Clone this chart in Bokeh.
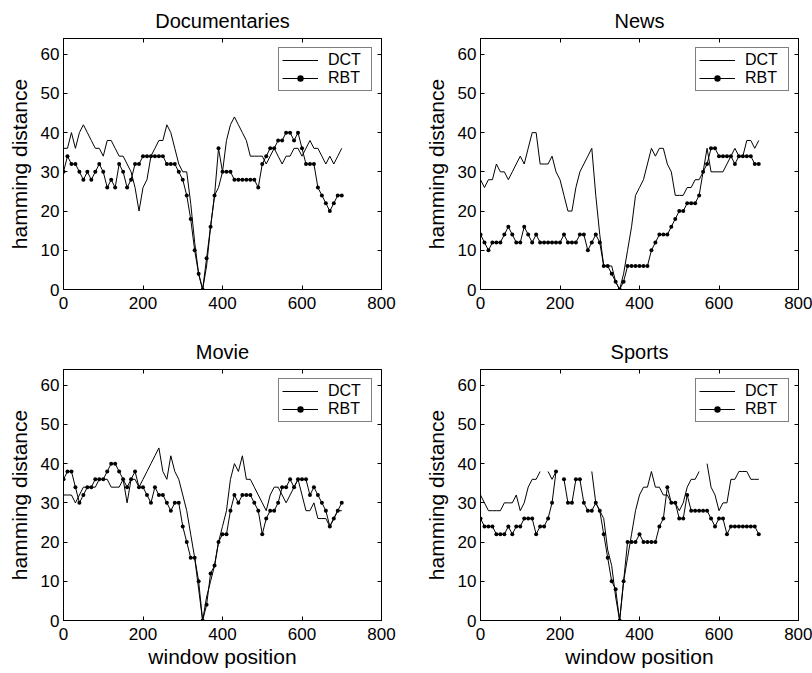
from bokeh.plotting import figure
from bokeh.layouts import column, row
from bokeh.models import LinearAxis, Range1d, Legend, LegendItem, FixedTicker
from bokeh.embed import file_html
from bokeh.resources import INLINE

nan = float("nan")

# window positions (sampling grid of the curves)
positions = list(range(0, 701, 10))
x_ticks = [0, 200, 400, 600, 800]
y_ticks = [0, 10, 20, 30, 40, 50, 60]
titles = ["Documentaries", "News", "Movie", "Sports"]
series_names = ["DCT", "RBT"]

doc_dct = [36, 36, 40, 36, 40, 42, 40, 38, 36, 36,
           34, 38, 38, 36, 34, 34, 32, 30, 26, 20,
           26, 28, 34, 36, 38, 38, 42, 40, 36, 32,
           30, 30, 22, 12, 4, 0, 6, 16, 24, 26,
           30, 38, 42, 44, 42, 40, 38, 34, 34, 34,
           34, 32, 34, 36, 34, 32, 34, 34, 36, 36,
           34, 36, 38, 36, 36, 34, 32, 34, 32, 34, 36]
doc_rbt = [30, 34, 32, 32, 30, 28, 30, 28, 30, 32,
           30, 26, 28, 26, 32, 30, 26, 28, 32, 32,
           34, 34, 34, 34, 34, 34, 32, 32, 32, 30,
           28, 24, 18, 10, 4, 0, 8, 16, 24, 36,
           30, 30, 30, 28, 28, 28, 28, 28, 28, 26,
           32, 34, 36, 36, 38, 38, 40, 40, 38, 40,
           36, 32, 32, 32, 26, 24, 22, 20, 22, 24, 24]

news_dct = [28, 26, 28, 28, 32, 30, 30, 28, 30, 32,
            34, 32, 36, 40, 40, 32, 32, 32, 34, 30,
            28, 24, 20, 20, 26, 30, 32, 34, 36, 24,
            14, 6, 6, 6, 2, 0, 4, 10, 16, 24,
            26, 28, 32, 36, 34, 36, 36, 32, 30, 24,
            24, 24, 26, 26, 28, 28, 30, 36, 30, 30,
            30, 30, 32, 34, 36, 34, 34, 38, 38, 36, 38]
news_rbt = [14, 12, 10, 12, 12, 12, 14, 16, 14, 12,
            12, 16, 14, 12, 14, 12, 12, 12, 12, 12,
            12, 14, 12, 12, 12, 14, 14, 10, 12, 14,
            12, 6, 6, 4, 2, 0, 2, 6, 6, 6,
            6, 6, 6, 10, 12, 14, 14, 14, 16, 18,
            20, 20, 22, 22, 22, 24, 30, 32, 36, 36,
            34, 34, 34, 34, 32, 34, 34, 34, 34, 32, 32]

movie_dct = [32, 32, 32, 30, 32, 34, 34, 34, 34, 36,
             36, 36, 34, 34, 34, 36, 30, 36, 36, 34,
             36, 38, 40, 42, 44, 38, 36, 42, 38, 36,
             32, 28, 22, 16, 8, 0, 6, 10, 14, 20,
             24, 28, 36, 40, 38, 42, 36, 36, 34, 32,
             30, 28, 32, 34, 34, 32, 30, 32, 34, 36,
             32, 28, 28, 30, 26, 26, 26, 24, 26, 28, 28]
movie_rbt = [36, 38, 38, 34, 30, 32, 34, 34, 36, 36,
             36, 38, 40, 40, 38, 36, 34, 36, 38, 34,
             34, 32, 30, 34, 32, 32, 30, 28, 30, 30,
             24, 20, 16, 16, 10, 0, 4, 12, 14, 20,
             22, 22, 28, 32, 30, 32, 32, 32, 30, 28,
             22, 26, 28, 28, 30, 34, 34, 36, 34, 36,
             36, 36, 32, 34, 32, 30, 28, 24, 26, 28, 30]

sports_dct = [32, 30, 28, 28, 28, 28, 30, 30, 30, 32,
              28, 30, 34, 36, 36, 38, nan, 38, 36, 38,
              nan, nan, nan, nan, nan, nan, nan, nan, 38, 30,
              28, 26, 18, 14, 6, 0, 10, 16, 22, 28,
              32, 34, 34, 38, 34, 34, 32, 32, 30, 30,
              28, 30, 34, 36, 36, 38, nan, 40, 34, 32,
              28, 30, 30, 36, 36, 38, 38, 38, 36, 36, 36]
sports_rbt = [26, 24, 24, 24, 22, 22, 22, 24, 22, 24,
              24, 26, 26, 26, 22, 24, 24, 26, 30, 38,
              nan, 36, 30, 30, 36, 36, 30, 28, 28, 30,
              28, 22, 16, 10, 8, 0, 10, 20, 20, 20,
              22, 20, 20, 20, 20, 24, 26, 34, 30, 30,
              26, 26, 32, 28, 28, 28, 28, 28, 26, 24,
              26, 26, 22, 24, 24, 24, 24, 24, 24, 24, 22]

FONT = "Liberation Sans"


def mirror_axis(ticks):
    return LinearAxis(ticker=FixedTicker(ticks=ticks), major_tick_in=4, major_tick_out=0,
                      minor_tick_line_color=None, major_label_text_font_size="0px",
                      major_label_text_color=None, major_label_text_alpha=0,
                      major_label_standoff=0, axis_line_color="black",
                      major_tick_line_color="black")


def make_panel(title, dct, rbt, xlabel, borders):
    left, right, top, bottom = borders
    p = figure(frame_width=318, frame_height=251,
               x_range=Range1d(0, 800), y_range=Range1d(0, 64),
               output_backend="svg", toolbar_location=None,
               min_border_left=left, min_border_right=right,
               min_border_top=top, min_border_bottom=bottom,
               background_fill_color="white", border_fill_color="white")
    p.title.text = title
    p.title.text_font = FONT
    p.title.text_font_size = "20px"
    p.title.text_font_style = "normal"
    p.title.text_line_height = 0.9
    p.title.align = "center"
    p.title.text_color = "black"
    p.title.standoff = 14

    p.xgrid.grid_line_color = None
    p.ygrid.grid_line_color = None
    p.outline_line_color = "black"
    p.outline_line_width = 1

    xa = p.xaxis[0]
    xa.ticker = FixedTicker(ticks=x_ticks)
    ya = p.yaxis[0]
    ya.ticker = FixedTicker(ticks=y_ticks)
    for ax in (xa, ya):
        ax.major_tick_in = 4
        ax.major_tick_out = 0
        ax.minor_tick_line_color = None
        ax.axis_line_color = "black"
        ax.major_tick_line_color = "black"
        ax.major_label_text_font = FONT
        ax.major_label_text_font_size = "17px"
        ax.major_label_text_color = "black"
        ax.axis_label_text_font = FONT
        ax.axis_label_text_font_size = "21px"
        ax.axis_label_text_font_style = "normal"
        ax.axis_label_text_color = "black"
    xa.major_label_standoff = 7
    ya.major_label_standoff = 4
    ya.axis_label = "hamming distance"
    ya.axis_label_standoff = 7
    if xlabel:
        xa.axis_label = xlabel
        xa.axis_label_standoff = 2

    p.add_layout(mirror_axis(x_ticks), "above")
    p.add_layout(mirror_axis(y_ticks), "right")

    r_dct = p.line(positions, dct, line_color="black", line_width=1)
    r_rbt = p.line(positions, rbt, line_color="black", line_width=1)
    r_pts = p.scatter(positions, rbt, marker="circle", size=4,
                      fill_color="black", line_color=None)

    leg = Legend(items=[LegendItem(label=series_names[0], renderers=[r_dct]),
                        LegendItem(label=series_names[1], renderers=[r_rbt, r_pts])],
                 location="top_right", margin=9, padding=3, spacing=0,
                 glyph_width=36, glyph_height=16, label_height=16, label_width=40,
                 label_standoff=10,
                 label_text_font=FONT, label_text_font_size="16px",
                 label_text_color="black",
                 border_line_color="black", border_line_width=1,
                 background_fill_color="white", background_fill_alpha=1)
    p.add_layout(leg)
    return p


p1 = make_panel(titles[0], doc_dct, doc_rbt, None, (63, 39, 38, 41))
p2 = make_panel(titles[1], news_dct, news_rbt, None, (60, 14, 38, 41))
p3 = make_panel(titles[2], movie_dct, movie_rbt, "window position", (63, 39, 39, 53))
p4 = make_panel(titles[3], sports_dct, sports_rbt, "window position", (60, 14, 39, 53))

layout = column(row(p1, p2), row(p3, p4))
open("out.html", "w").write(file_html(layout, INLINE))
